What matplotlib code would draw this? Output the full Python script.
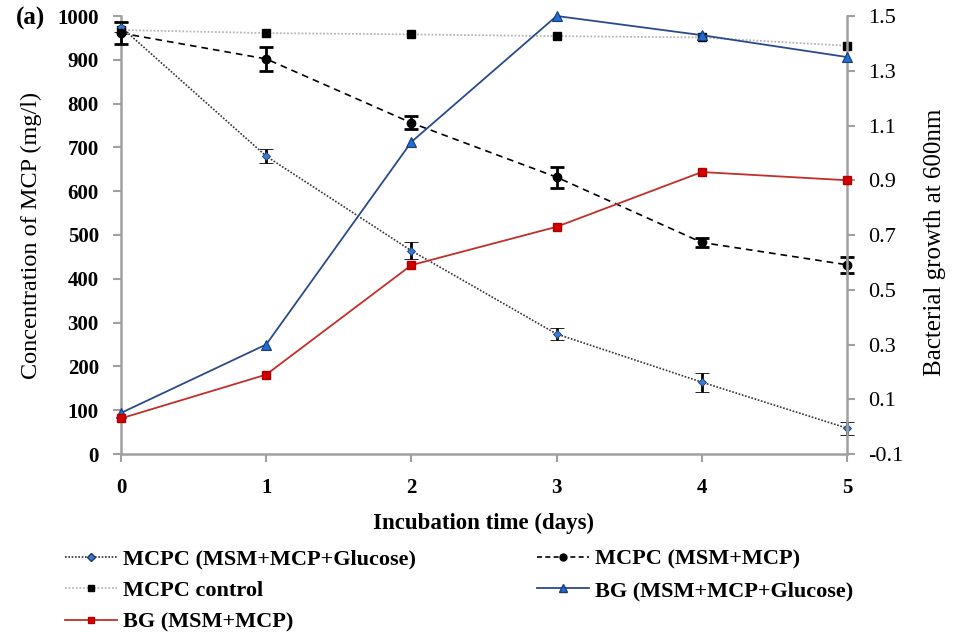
import matplotlib
matplotlib.use("Agg")
import matplotlib.pyplot as plt
from matplotlib.lines import Line2D

days = [0, 1, 2, 3, 4, 5]
mcpc_glucose = [975, 680, 464, 274, 164, 59]
mcpc_glucose_err = [12, 16, 19, 13, 22, 15]
mcpc_mcp = [961, 902, 756, 632, 483, 432]
mcpc_mcp_err = [25, 28, 15, 24, 11, 18]
mcpc_control = [968, 961, 958, 954, 951, 932]
bg_glucose = [0.05, 0.30, 1.04, 1.50, 1.43, 1.35]
bg_mcp = [0.03, 0.19, 0.59, 0.73, 0.93, 0.90]

left_ticks = list(range(0, 1001, 100))
right_ticks = [-0.1, 0.1, 0.3, 0.5, 0.7, 0.9, 1.1, 1.3, 1.5]
right_ticklabels = ["-0.1", "0.1", "0.3", "0.5", "0.7", "0.9", "1.1", "1.3", "1.5"]

plt.rcParams['font.family'] = ['Liberation Serif', 'DejaVu Serif']

fig = plt.figure(figsize=(9.57, 6.38), dpi=100)
ax = fig.add_axes([121/957, 1-454/638, (847-121)/957, (454-16)/638])
ax2 = ax.twinx()

gray = '#a0a0a0'
ax.errorbar(days, mcpc_glucose, yerr=mcpc_glucose_err, color='#333333', ls=(0, (1, 1)), lw=1.2,
            marker='D', ms=4, mfc='#3a7bd5', mec='#1a3a6a', mew=0.6,
            ecolor='black', elinewidth=2, capsize=5, capthick=2, clip_on=False, zorder=3)
ax.errorbar(days, mcpc_mcp, yerr=mcpc_mcp_err, color='black', ls=(0, (4, 3)), lw=1.2,
            marker='o', ms=6, mfc='black', mec='black',
            ecolor='black', elinewidth=2, capsize=5, capthick=2, clip_on=False, zorder=3)
ax.plot(days, mcpc_control, color='#b5b5b5', ls=(0, (1, 1)), lw=1.3,
        marker='s', ms=6, mfc='black', mec='black', clip_on=False, zorder=3)

ax2.plot(days, bg_glucose, color='#2b4a8a', lw=1.3, marker='^', ms=7,
         mfc='#1e6fd0', mec='#1a3a7a', mew=0.8, clip_on=False, zorder=3)
ax2.plot(days, bg_mcp, color='#c0302a', lw=1.3, marker='s', ms=6,
         mfc='#d00000', mec='#b00000', clip_on=False, zorder=3)

ax.set_xlim(0, 5)
ax.set_ylim(0, 1000)
ax2.set_ylim(-0.1, 1.5)
ax.set_xticks(days)
ax.set_yticks(left_ticks)
ax2.set_yticks(right_ticks)
ax2.set_yticklabels(right_ticklabels)

for a in (ax, ax2):
    a.spines['top'].set_visible(False)
    for s in ('left', 'right', 'bottom'):
        a.spines[s].set_color(gray)
        a.spines[s].set_linewidth(1.8)
ax.spines['right'].set_visible(False)
ax2.spines['left'].set_visible(False)
ax2.spines['bottom'].set_visible(False)

ax.tick_params(axis='y', direction='out', length=6, width=1.5, color=gray, labelsize=15, pad=10)
ax.tick_params(axis='x', direction='out', length=6, width=1.5, color=gray, labelsize=15, pad=11)
ax2.tick_params(axis='y', direction='out', length=6, width=1.5, color=gray, labelsize=16, pad=9)
for lab in ax.get_yticklabels() + ax.get_xticklabels():
    lab.set_fontweight('bold')

ax.set_ylabel('Concentration of MCP (mg/l)', fontsize=17.5, labelpad=11)
ax2.set_ylabel('Bacterial growth at 600nm', fontsize=18, labelpad=15)
ax2.yaxis.label.set_y(0.484)
ax.set_xlabel('Incubation time (days)', fontsize=16.5, fontweight='bold', labelpad=11)

fig.text(16/957, 1-18/638, '(a)', fontsize=18, fontweight='bold', va='center', ha='left')

handles = [
    Line2D([], [], color='#333333', ls=(0, (1, 1)), lw=1.2, marker='D', ms=4, mfc='#3a7bd5', mec='#1a3a6a'),
    Line2D([], [], color='#b5b5b5', ls=(0, (1, 1)), lw=1.3, marker='s', ms=5, mfc='black', mec='black'),
    Line2D([], [], color='#c0302a', lw=1.3, marker='s', ms=5, mfc='#d00000', mec='#b00000'),
    Line2D([], [], color='black', ls=(0, (3, 2)), lw=1.2, marker='o', ms=5, mfc='black', mec='black'),
    Line2D([], [], color='#2b4a8a', lw=1.3, marker='^', ms=6, mfc='#1e6fd0', mec='#1a3a7a'),
]
labels = ['MCPC (MSM+MCP+Glucose)', 'MCPC control', 'BG (MSM+MCP)',
          'MCPC (MSM+MCP)', 'BG (MSM+MCP+Glucose)']
fig.legend(handles, labels, ncol=2, loc='upper left', bbox_to_anchor=(56/957, 1-540/638),
           frameon=False, prop={'family': 'Liberation Serif', 'size': 16, 'weight': 'bold'},
           handlelength=2.34, handletextpad=0.27,
           columnspacing=5.45, labelspacing=0.5, borderaxespad=0)

fig.savefig('out.png', dpi=100)
